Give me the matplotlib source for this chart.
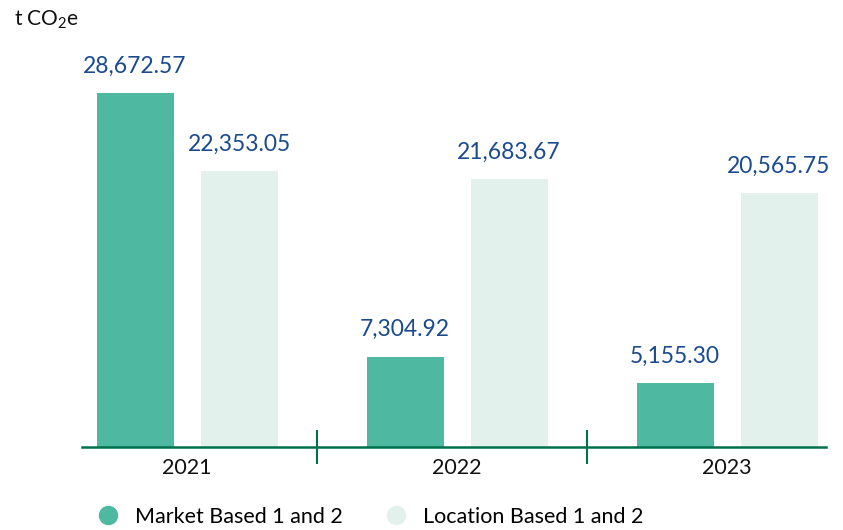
import matplotlib
matplotlib.use("Agg")
import matplotlib.pyplot as plt
from matplotlib.lines import Line2D
import numpy as np

years = ["2021", "2022", "2023"]
market_based = [28672.57, 7304.92, 5155.30]
location_based = [22353.05, 21683.67, 20565.75]
series_names = ["Market Based 1 and 2", "Location Based 1 and 2"]
unit_label = "t CO$_2$e"

MARKET_COLOR = "#4fb8a0"
LOCATION_COLOR = "#e2f1ec"
AXIS_COLOR = "#00704a"
VALUE_COLOR = "#1a4a8f"

plt.rcParams["font.family"] = ["Lato", "DejaVu Sans"]
plt.rcParams["mathtext.fontset"] = "custom"
plt.rcParams["mathtext.rm"] = "Lato"
plt.rcParams["mathtext.default"] = "regular"

fig = plt.figure(figsize=(8.43, 5.30), dpi=100)
ax = fig.add_axes([0.0973, 0.1566, 0.8827, 0.7679])

x = np.arange(len(years))
width = 0.285
gap = 0.1
off = (width + gap) / 2

b1 = ax.bar(x - off, market_based, width, color=MARKET_COLOR)
b2 = ax.bar(x + off, location_based, width, color=LOCATION_COLOR)

for bars, vals in ((b1, market_based), (b2, location_based)):
    for rect, v in zip(bars, vals):
        ax.annotate(f"{v:,.2f}", (rect.get_x() + rect.get_width() / 2, rect.get_height()),
                    xytext=(0, 12), textcoords="offset points", ha="center", va="bottom",
                    fontsize=16.5, color=VALUE_COLOR)

ax.set_xlim(-0.389, 2.367)
ax.set_ylim(0, 32966)

for s in ["top", "right", "left"]:
    ax.spines[s].set_visible(False)
ax.spines["bottom"].set_color(AXIS_COLOR)
ax.spines["bottom"].set_linewidth(1.8)
ax.set_yticks([])

ax.set_xticks(x)
ax.set_xticklabels(years, fontsize=15.5, color="#111111")
ax.tick_params(axis="x", which="major", length=0, pad=8)
ax.set_xticks([0.48, 1.48], minor=True)
ax.tick_params(axis="x", which="minor", direction="inout", length=25, width=1.5, color=AXIS_COLOR)

fig.text(0.0166, 0.962, unit_label, fontsize=15, color="#111111", va="center", ha="left")

handles = [Line2D([], [], marker="o", linestyle="none", markersize=13, color=MARKET_COLOR),
           Line2D([], [], marker="o", linestyle="none", markersize=13, color=LOCATION_COLOR)]
fig.legend(handles, series_names, loc="center left", bbox_to_anchor=(0.1025, 0.025), ncol=2,
           frameon=False, fontsize=15.5, handletextpad=0.75, columnspacing=2.0, borderpad=0,
           handlelength=1.0)

fig.savefig("out.png", dpi=100)
